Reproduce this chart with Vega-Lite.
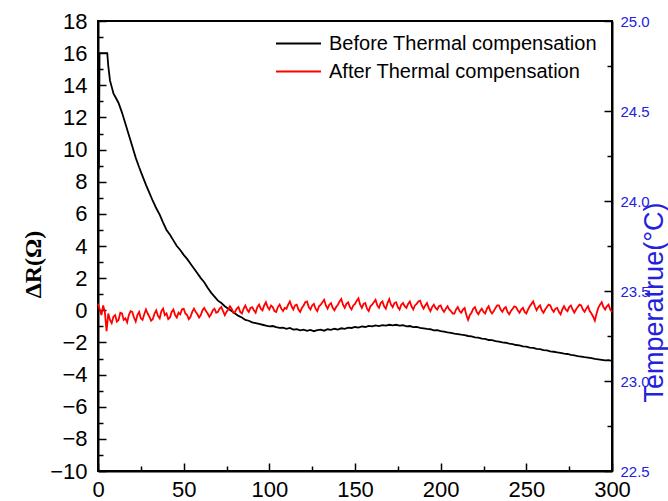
{
"$schema": "https://vega.github.io/schema/vega-lite/v6.json",
"width": 514, "height": 450,
"autosize": "none",
"padding": {"left": 98, "top": 21, "right": 56, "bottom": 30},
"background": "white",
"config": {
  "view": {"stroke": "black", "strokeWidth": 2},
  "axis": {"domainColor": "black", "domainWidth": 2, "tickColor": "black", "tickWidth": 1.5, "labelFont": "Liberation Sans", "labelColor": "black", "grid": false, "labelOverlap": false, "labelFlush": false}
},
"layer": [
{
  "data": {"values": [
{"t":0,"b":9.5,"a":0.4},{"t":0.5,"b":8.8},{"t":0.9,"b":16},{"t":2,"b":16,"a":-0.3},{"t":3,"a":0.3},{"t":4,"b":16,"a":-0.1},{"t":5,"a":-1.3},{"t":5.4,"b":16},{"t":6,"b":15.2,"a":-0.2},{"t":7,"b":14.3,"a":-0.6},{"t":8,"b":13.9,"a":-0.8},{"t":9,"b":13.5,"a":-0.4},
{"t":10,"b":13.3,"a":-0.3},{"t":11,"a":-0.7},{"t":12,"b":12.9,"a":-0.6},{"t":13,"a":-0.15},{"t":14,"b":12.3,"a":-0.2},{"t":15,"a":-0.6},{"t":16,"b":11.6,"a":-0.5},{"t":17,"a":-0.75},{"t":18,"b":10.9,"a":-0.3},{"t":19,"a":-0.05},
{"t":20,"b":10.2,"a":-0.1},{"t":21,"a":-0.45},{"t":22,"b":9.5,"a":-0.7},{"t":23,"a":-0.3},{"t":24,"b":8.9,"a":-0.1},{"t":25,"a":-0.5},{"t":26,"b":8.35,"a":-0.6},{"t":27,"a":-0.25},{"t":28,"b":7.8,"a":0.05},{"t":29,"a":-0.2},
{"t":30,"b":7.3,"a":-0.4},{"t":31,"a":-0.65},{"t":32,"b":6.8,"a":-0.55},{"t":33,"a":-0.2},{"t":34,"b":6.35,"a":0.0},{"t":35,"a":-0.35},{"t":36,"b":5.95,"a":-0.5},{"t":37,"a":-0.05},{"t":38,"b":5.45,"a":0.1},{"t":39,"a":-0.3},
{"t":40,"b":5.0,"a":-0.2},{"t":41,"a":-0.55},{"t":42,"b":4.7,"a":-0.45},{"t":43,"a":-0.1},{"t":44,"b":4.35,"a":0.05},{"t":45,"a":-0.3},{"t":46,"b":4.0,"a":-0.45},{"t":47,"a":-0.15},{"t":48,"b":3.75,"a":-0.25},{"t":49,"a":0.05},
{"t":50,"b":3.45,"a":0.1},{"t":51,"a":-0.2},{"t":52,"b":3.2,"a":-0.3},{"t":53,"a":-0.55},{"t":54,"b":2.9,"a":-0.4},{"t":55,"a":-0.1},{"t":56,"b":2.6,"a":0.1},{"t":57,"a":-0.1},{"t":58,"b":2.3,"a":-0.25},{"t":59,"a":-0.45},
{"t":60,"b":2.0,"a":-0.3},{"t":61,"a":0.0},{"t":62,"b":1.75,"a":0.15},{"t":63,"a":-0.05},{"t":64,"b":1.4,"a":-0.2},{"t":65,"a":-0.4},{"t":66,"b":1.1,"a":-0.25},{"t":67,"a":0.0},{"t":68,"b":0.85,"a":0.1},{"t":69,"a":-0.15},
{"t":70,"b":0.6,"a":-0.1},{"t":71,"a":0.1},{"t":72,"b":0.45,"a":0.2},{"t":73,"a":-0.05},{"t":74,"b":0.25,"a":-0.3},{"t":75,"a":-0.1},{"t":76,"b":0.1,"a":0.05},{"t":77,"a":0.25},{"t":78,"b":-0.05,"a":0.1},{"t":79,"a":-0.15},
{"t":80,"b":-0.2,"a":-0.1},{"t":81,"a":0.1},{"t":82,"b":-0.35,"a":0.2},{"t":83,"a":-0.1},{"t":84,"b":-0.45,"a":-0.2},{"t":85,"a":0.1},{"t":86,"b":-0.6,"a":0.3},{"t":87,"a":0.05},{"t":88,"b":-0.65,"a":-0.1},{"t":89,"a":0.15},
{"t":90,"b":-0.75,"a":0.2},{"t":91,"a":0.0},{"t":92,"b":-0.8,"a":-0.15},{"t":93,"a":0.2},{"t":94,"b":-0.85,"a":0.35},{"t":95,"a":0.1},{"t":96,"b":-0.9,"a":0.0},{"t":97,"a":0.3},{"t":98,"b":-0.95,"a":0.5},{"t":99,"a":0.2},
{"t":100,"b":-1.0,"a":0.05},{"t":101,"a":0.3},{"t":102,"b":-0.98,"a":0.2},{"t":103,"a":-0.05},{"t":104,"b":-1.05,"a":-0.1},{"t":105,"a":0.2},{"t":106,"b":-1.1,"a":0.35},{"t":107,"a":0.1},{"t":108,"b":-1.08,"a":-0.05},{"t":109,"a":0.15},
{"t":110,"b":-1.15,"a":0.1},{"t":111,"a":0.35},{"t":112,"b":-1.1,"a":0.55},{"t":113,"a":0.25},{"t":114,"b":-1.2,"a":0.05},{"t":115,"a":0.3},{"t":116,"b":-1.18,"a":0.35},{"t":117,"a":0.05},{"t":118,"b":-1.25,"a":-0.1},{"t":119,"a":0.15},
{"t":120,"b":-1.2,"a":0.3},{"t":121,"a":0.5},{"t":122,"b":-1.28,"a":0.55},{"t":123,"a":0.2},{"t":124,"b":-1.22,"a":0.05},{"t":125,"a":0.3},{"t":126,"b":-1.3,"a":0.4},{"t":127,"a":0.1},{"t":128,"b":-1.24,"a":-0.05},{"t":129,"a":0.25},
{"t":130,"b":-1.2,"a":0.35},{"t":131,"a":0.5},{"t":132,"b":-1.27,"a":0.65},{"t":133,"a":0.3},{"t":134,"b":-1.18,"a":0.1},{"t":135,"a":0.35},{"t":136,"b":-1.22,"a":0.45},{"t":137,"a":0.15},{"t":138,"b":-1.15,"a":0.0},{"t":139,"a":0.2},
{"t":140,"b":-1.2,"a":0.35},{"t":141,"a":0.55},{"t":142,"b":-1.12,"a":0.7},{"t":143,"a":0.35},{"t":144,"b":-1.15,"a":0.15},{"t":145,"a":0.4},{"t":146,"b":-1.08,"a":0.5},{"t":147,"a":0.2},{"t":148,"b":-1.1,"a":0.05},{"t":149,"a":0.3},
{"t":150,"b":-1.04,"a":0.4},{"t":151,"a":0.6},{"t":152,"b":-1.08,"a":0.75},{"t":153,"a":0.35},{"t":154,"b":-1.0,"a":0.15},{"t":155,"a":0.4},{"t":156,"b":-1.04,"a":0.45},{"t":157,"a":0.1},{"t":158,"b":-0.97,"a":-0.05},{"t":159,"a":0.25},
{"t":160,"b":-1.0,"a":0.35},{"t":161,"a":0.5},{"t":162,"b":-0.94,"a":0.65},{"t":163,"a":0.3},{"t":164,"b":-0.98,"a":0.15},{"t":165,"a":0.45},{"t":166,"b":-0.92,"a":0.55},{"t":167,"a":0.25},{"t":168,"b":-0.95,"a":0.1},{"t":169,"a":0.45},
{"t":170,"b":-0.9,"a":0.7},{"t":171,"a":0.35},{"t":172,"b":-0.94,"a":0.2},{"t":173,"a":0.45},{"t":174,"b":-0.9,"a":0.5},{"t":175,"a":0.2},{"t":176,"b":-0.95,"a":0.05},{"t":177,"a":0.35},{"t":178,"b":-0.93,"a":0.45},{"t":179,"a":0.25},
{"t":180,"b":-1.0,"a":0.15},{"t":181,"a":0.4},{"t":182,"b":-0.98,"a":0.55},{"t":183,"a":0.25},{"t":184,"b":-1.05,"a":0.05},{"t":185,"a":0.3},{"t":186,"b":-1.04,"a":0.4},{"t":187,"a":0.55},{"t":188,"b":-1.1,"a":0.6},{"t":189,"a":0.3},
{"t":190,"b":-1.12,"a":0.1},{"t":191,"a":0.3},{"t":192,"b":-1.16,"a":0.45},{"t":193,"a":0.15},{"t":194,"b":-1.18,"a":-0.05},{"t":195,"a":0.2},{"t":196,"b":-1.25,"a":0.35},{"t":197,"a":0.15},{"t":198,"b":-1.24,"a":0.05},{"t":199,"a":0.25},
{"t":200,"b":-1.3,"a":0.3},{"t":201,"a":0.05},{"t":202,"b":-1.33,"a":-0.1},{"t":203,"a":0.1},{"t":204,"b":-1.38,"a":0.25},{"t":205,"a":0.05},{"t":206,"b":-1.4,"a":-0.05},{"t":207,"a":-0.2},{"t":208,"b":-1.45,"a":-0.2},{"t":209,"a":0.05},
{"t":210,"b":-1.48,"a":0.2},{"t":211,"a":-0.05},{"t":212,"b":-1.52,"a":-0.15},{"t":213,"a":0.05},{"t":214,"b":-1.55,"a":0.15},{"t":215,"a":-0.3},{"t":216,"b":-1.6,"a":-0.6},{"t":217,"a":-0.3},{"t":218,"b":-1.62,"a":-0.15},{"t":219,"a":0.1},
{"t":220,"b":-1.68,"a":0.2},{"t":221,"a":-0.1},{"t":222,"b":-1.7,"a":-0.25},{"t":223,"a":-0.05},{"t":224,"b":-1.76,"a":0.1},{"t":225,"a":-0.1},{"t":226,"b":-1.78,"a":-0.2},{"t":227,"a":0.1},{"t":228,"b":-1.85,"a":0.25},{"t":229,"a":-0.05},
{"t":230,"b":-1.86,"a":-0.2},{"t":231,"a":-0.05},{"t":232,"b":-1.92,"a":0.15},{"t":233,"a":0.3},{"t":234,"b":-1.95,"a":0.3},{"t":235,"a":0.05},{"t":236,"b":-2.0,"a":-0.1},{"t":237,"a":0.1},{"t":238,"b":-2.02,"a":0.2},{"t":239,"a":-0.1},
{"t":240,"b":-2.08,"a":-0.25},{"t":241,"a":-0.05},{"t":242,"b":-2.1,"a":0.1},{"t":243,"a":0.25},{"t":244,"b":-2.16,"a":0.2},{"t":245,"a":0.0},{"t":246,"b":-2.18,"a":-0.15},{"t":247,"a":0.05},{"t":248,"b":-2.24,"a":0.15},{"t":249,"a":-0.1},
{"t":250,"b":-2.26,"a":-0.2},{"t":251,"a":0.05},{"t":252,"b":-2.32,"a":0.25},{"t":253,"a":0.4},{"t":254,"b":-2.34,"a":0.55},{"t":255,"a":0.25},{"t":256,"b":-2.4,"a":0.0},{"t":257,"a":0.2},{"t":258,"b":-2.42,"a":0.3},{"t":259,"a":0.0},
{"t":260,"b":-2.48,"a":-0.15},{"t":261,"a":0.05},{"t":262,"b":-2.5,"a":0.2},{"t":263,"a":0.35},{"t":264,"b":-2.55,"a":0.3},{"t":265,"a":0.05},{"t":266,"b":-2.58,"a":-0.1},{"t":267,"a":0.1},{"t":268,"b":-2.62,"a":0.15},{"t":269,"a":-0.1},
{"t":270,"b":-2.65,"a":-0.25},{"t":271,"a":0.05},{"t":272,"b":-2.7,"a":0.25},{"t":273,"a":0.05},{"t":274,"b":-2.72,"a":-0.05},{"t":275,"a":0.2},{"t":276,"b":-2.78,"a":0.3},{"t":277,"a":0.05},{"t":278,"b":-2.8,"a":-0.15},{"t":279,"a":0.05},
{"t":280,"b":-2.85,"a":0.2},{"t":281,"a":0.35},{"t":282,"b":-2.88,"a":0.3},{"t":283,"a":0.05},{"t":284,"b":-2.92,"a":-0.1},{"t":285,"a":0.1},{"t":286,"b":-2.95,"a":0.25},{"t":287,"a":-0.05},{"t":288,"b":-2.98,"a":-0.2},{"t":289,"a":-0.4},
{"t":290,"b":-3.02,"a":-0.65},{"t":291,"a":-0.2},{"t":292,"b":-3.05,"a":0.15},{"t":293,"a":0.35},{"t":294,"b":-3.08,"a":0.5},{"t":295,"a":0.2},{"t":296,"b":-3.12,"a":0.05},{"t":297,"a":0.25},{"t":298,"b":-3.1,"a":0.35},{"t":299,"a":0.05},
{"t":300,"b":-3.15,"a":-0.1}
  ]},
  "transform": [{"fold": ["b", "a"], "as": ["series", "v"]}, {"filter": "isValid(datum.v)"}],
  "mark": {"type": "line", "strokeWidth": 1.8},
  "encoding": {
    "x": {"field": "t", "type": "quantitative", "scale": {"domain": [0, 300], "nice": false},
      "axis": {"orient": "bottom", "title": null, "values": [0,25,50,75,100,125,150,175,200,225,250,275,300],
        "labelExpr": "datum.value % 50 === 0 ? datum.label : ''",
        "tickSize": {"condition": {"test": "datum.value % 50 === 0", "value": -8}, "value": -5},
        "labelFontSize": 22, "labelPadding": 16}},
    "y": {"field": "v", "type": "quantitative", "scale": {"domain": [-10, 18], "nice": false},
      "axis": {"orient": "left", "values": [-10,-9,-8,-7,-6,-5,-4,-3,-2,-1,0,1,2,3,4,5,6,7,8,9,10,11,12,13,14,15,16,17,18],
        "labelExpr": "datum.value % 2 === 0 ? datum.label : ''",
        "tickSize": {"condition": {"test": "datum.value % 2 === 0", "value": -8}, "value": -5},
        "labelFontSize": 22, "labelPadding": 19,
        "title": "ΔR(Ω)", "titleFont": "Liberation Serif", "titleFontWeight": "bold", "titleFontSize": 24, "titleColor": "black",
        "titleAngle": 270, "titleX": -58, "titleY": 243, "titleBaseline": "alphabetic", "titleAlign": "center"}},
    "color": {"field": "series", "type": "nominal", "scale": {"domain": ["b", "a"], "range": ["#000000", "#ff0000"]},
      "legend": {"orient": "none", "legendX": 177, "legendY": -1, "title": null, "padding": 0, "labelLimit": 0,
        "labelExpr": "datum.label === 'b' ? 'Before Thermal compensation' : 'After Thermal compensation'",
        "labelFont": "Liberation Sans", "labelFontSize": 20, "labelColor": "black", "labelOffset": 7,
        "symbolType": "stroke", "symbolSize": 2025, "symbolStrokeWidth": 2, "rowPadding": -6, "gridAlign": "none"}}
  }
},
{
  "data": {"values": [{"t": 0, "temp": 22.5}, {"t": 300, "temp": 25}]},
  "mark": {"type": "point", "opacity": 0},
  "encoding": {
    "x": {"field": "t", "type": "quantitative"},
    "y": {"field": "temp", "type": "quantitative", "scale": {"domain": [22.5, 25], "nice": false},
      "axis": {"orient": "right", "values": [22.5,22.75,23,23.25,23.5,23.75,24,24.25,24.5,24.75,25],
        "labelExpr": "(datum.value * 4) % 2 === 0 ? format(datum.value, '.1f') : ''",
        "tickSize": {"condition": {"test": "(datum.value * 4) % 2 === 0", "value": -8}, "value": -5},
        "labelFontSize": 15, "labelColor": "#2222dd", "labelPadding": 16,
        "title": "Temperatrue(°C)", "titleFont": "Liberation Sans", "titleFontWeight": "normal", "titleFontSize": 27, "titleColor": "#2222dd",
        "titleAngle": 270, "titleX": 50, "titleY": 281, "titleBaseline": "alphabetic", "titleAlign": "center"}}
  }
}
],
"resolve": {"scale": {"y": "independent"}, "axis": {"y": "independent"}}
}
